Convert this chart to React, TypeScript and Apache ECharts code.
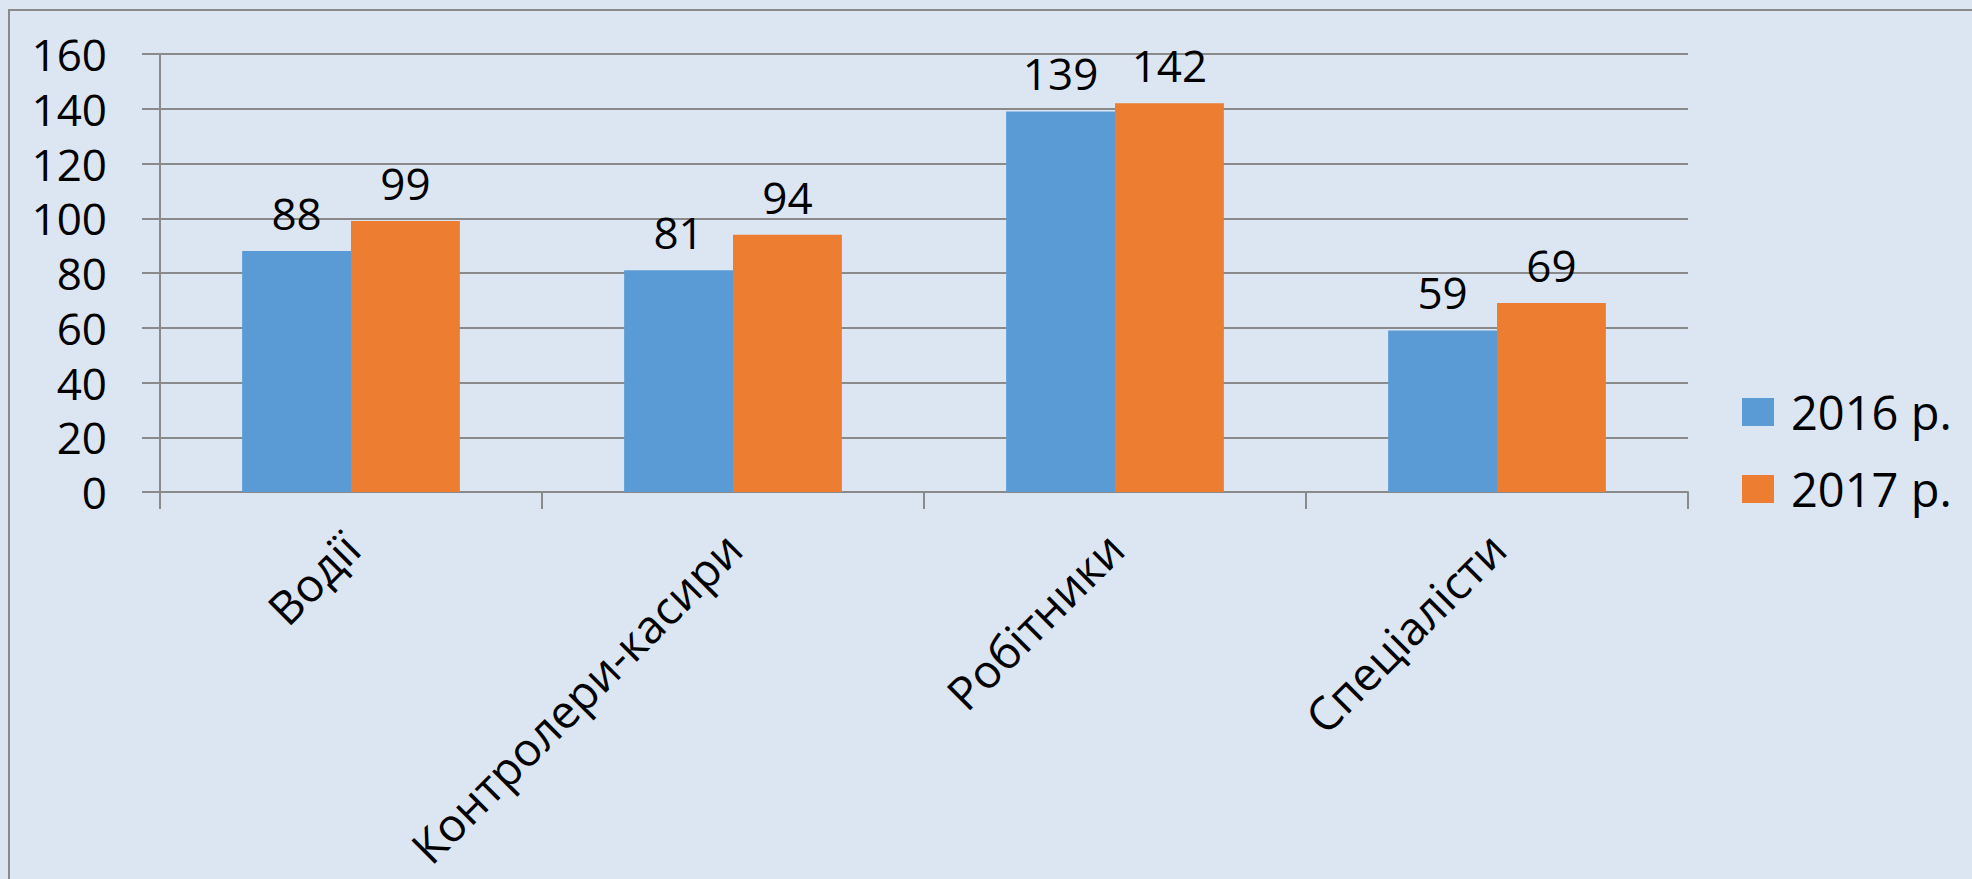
import React, { useEffect, useRef } from "react";
import * as echarts from "echarts";

const categories = ["Водії", "Контролери-касири", "Робітники", "Спеціалісти"];
const seriesNames = ["2016 р.", "2017 р."];
const values2016 = [88, 81, 139, 59];
const values2017 = [99, 94, 142, 69];
const yTicks = { min: 0, max: 160, interval: 20 };

const FONT = "Open Sans";
const GRID_COLOR = "#8a8a8a";

export default function App() {
  const ref = useRef<HTMLDivElement>(null);
  useEffect(() => {
    if (!ref.current) return;
    const chart = echarts.init(ref.current, null, { renderer: "svg" });
    const labelCfg = {
      show: true,
      position: "top",
      distance: 16,
      color: "#000",
      fontSize: 44,
      fontFamily: FONT,
    };
    chart.setOption({
      animation: false,
      backgroundColor: "#dce6f2",
      textStyle: { fontFamily: FONT },
      graphic: [
        {
          type: "rect",
          shape: { x: 9, y: 10, width: 2000, height: 1000 },
          style: { fill: "none", stroke: GRID_COLOR, lineWidth: 2 },
          silent: true,
        },
      ],
      grid: { left: 160, right: 284, top: 54, bottom: 387, containLabel: false },
      legend: {
        orient: "vertical",
        left: 1737,
        top: 381,
        itemWidth: 32,
        itemHeight: 28,
        itemGap: 25,
        icon: "rect",
        data: seriesNames,
        textStyle: {
          fontSize: 47,
          lineHeight: 52,
          fontFamily: FONT,
          color: "#000",
          padding: [0, 0, 0, 12],
        },
      },
      xAxis: {
        type: "category",
        data: categories,
        axisLine: { lineStyle: { color: GRID_COLOR, width: 2 } },
        axisTick: { show: true, length: 17, lineStyle: { color: GRID_COLOR, width: 2 } },
        axisLabel: {
          rotate: 45,
          margin: 48,
          fontSize: 46,
          fontFamily: FONT,
          color: "#000",
          interval: 0,
        },
      },
      yAxis: {
        type: "value",
        min: yTicks.min,
        max: yTicks.max,
        interval: yTicks.interval,
        axisLine: { show: true, lineStyle: { color: GRID_COLOR, width: 2 } },
        axisTick: { show: true, length: 18, lineStyle: { color: GRID_COLOR, width: 2 } },
        splitLine: { lineStyle: { color: GRID_COLOR, width: 2 } },
        axisLabel: { margin: 53, fontSize: 44, fontFamily: FONT, color: "#000" },
      },
      series: [
        {
          name: seriesNames[0],
          type: "bar",
          data: values2016,
          itemStyle: { color: "#5b9bd5" },
          barGap: "0%",
          barCategoryGap: "43%",
          label: labelCfg,
        },
        {
          name: seriesNames[1],
          type: "bar",
          data: values2017,
          itemStyle: { color: "#ed7d31" },
          barGap: "0%",
          barCategoryGap: "43%",
          label: labelCfg,
        },
      ],
    });
    return () => chart.dispose();
  }, []);
  return (
    <div
      ref={ref}
      style={{ position: "fixed", left: 0, top: 0, width: 1972, height: 879 }}
    />
  );
}
